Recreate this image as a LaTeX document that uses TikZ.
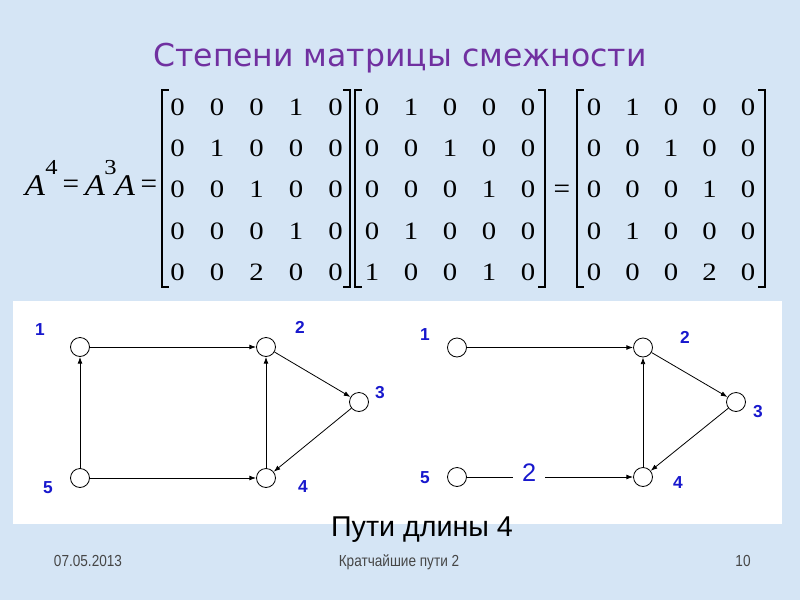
\documentclass[tikz,border=0pt]{standalone}
\usepackage{fontspec}
\setmainfont{Liberation Serif}
\newfontfamily\titlefont{DejaVu Sans}
\newfontfamily\sansfont{Liberation Sans}
\newfontfamily\narrowfont[FakeStretch=0.85]{Liberation Sans}
\newfontfamily\digitfont[FakeStretch=1.15]{Liberation Serif}
\newfontfamily\eqfont[FakeStretch=1.1]{Liberation Serif}
\usetikzlibrary{arrows.meta}
\definecolor{bgblue}{RGB}{213,229,245}
\definecolor{titlepurple}{RGB}{112,48,160}
\definecolor{lblblue}{RGB}{24,24,205}
\definecolor{footgray}{RGB}{70,70,70}
\tikzset{
  digit/.style={anchor=base, inner sep=0pt, font=\digitfont\fontsize{18.75}{18.75}\selectfont},
  eqpart/.style={anchor=base, inner sep=0pt, font=\eqfont\fontsize{22.5}{22.5}\selectfont},
  eqsign/.style={anchor=base, inner sep=0pt, font=\fontsize{22}{22}\selectfont},
  eqsup/.style={anchor=base, inner sep=0pt, font=\digitfont\fontsize{16}{16}\selectfont},
  bracket/.style={line width=1.5pt, line cap=rect},
  vert/.style={circle, draw=black, fill=white, minimum size=14.25pt, inner sep=0pt, line width=0.6pt},
  edge/.style={draw=black, line width=0.6pt, -{Latex[length=5pt,width=3.6pt]}},
  vlbl/.style={text=lblblue, inner sep=0pt, font=\sansfont\bfseries\fontsize{13}{13}\selectfont},
  foot/.style={anchor=base, text=footgray, inner sep=0pt, font=\narrowfont\fontsize{12}{12}\selectfont}
}
\newcommand\mymat[4]{%
  \foreach \rowlist [count=\r] in {#4} {
    \foreach \v [count=\c] in \rowlist {
      \node[digit] (#1-\r-\c) at ({#2+(\c-1)*#3}, {115+(\r-1)*41.4}) {\v};
    }
  }
}
\begin{document}
\begin{tikzpicture}[x=0.75pt,y=-0.75pt]
\fill[bgblue] (0,0) rectangle (800,600);
\useasboundingbox (0,0) rectangle (800,600);
\fill[white] (13,301) rectangle (782,524);

% title
\node[anchor=base, inner sep=0pt, text=titlepurple, font=\titlefont\fontsize{23.6}{23.6}\selectfont] (title) at (400,66) {Степени матрицы смежности};

% equation
\node[eqpart] (eA1) at (35,195) {\itshape A};
\node[eqsup] (e4) at (51.5,174) {4};
\node[eqsign] (eq1) at (71,193.5) {=};
\node[eqpart] (eA2) at (95,195) {\itshape A};
\node[eqsup] (e3) at (110.5,174) {3};
\node[eqpart] (eA3) at (125,195) {\itshape A};
\node[eqsign] (eq2) at (149,193.5) {=};

% matrices
\mymat{ma}{177.5}{39.5}{{0,0,0,1,0},{0,1,0,0,0},{0,0,1,0,0},{0,0,0,1,0},{0,0,2,0,0}}
\mymat{mb}{372}{39}{{0,1,0,0,0},{0,0,1,0,0},{0,0,0,1,0},{0,1,0,0,0},{1,0,0,1,0}}
\mymat{mc}{594}{38.5}{{0,1,0,0,0},{0,0,1,0,0},{0,0,0,1,0},{0,1,0,0,0},{0,0,0,2,0}}

% brackets
\draw[bracket] (168,90) -- (162,90) -- (162,287) -- (168,287);
\draw[bracket] (344,90) -- (350,90) -- (350,287) -- (344,287);
\draw[bracket] (361,90) -- (355,90) -- (355,287) -- (361,287);
\draw[bracket] (539,90) -- (545,90) -- (545,287) -- (539,287);
\draw[bracket] (583,90) -- (577,90) -- (577,287) -- (583,287);
\draw[bracket] (759,90) -- (765,90) -- (765,287) -- (759,287);
\node[eqsign] (eq3) at (562,198) {=};

% left graph
\node[vert] (a1) at (80,347) {};
\node[vert] (a2) at (266,347) {};
\node[vert] (a3) at (359,402) {};
\node[vert] (a4) at (266,478) {};
\node[vert] (a5) at (80,478) {};
\draw[edge] (a1) -- (a2);
\draw[edge] (a5) -- (a1);
\draw[edge] (a5) -- (a4);
\draw[edge] (a4) -- (a2);
\draw[edge] (a2) -- (a3);
\draw[edge] (a3) -- (a4);
\node[vlbl] (la1) at (40,330) {1};
\node[vlbl] (la2) at (300,327) {2};
\node[vlbl] (la3) at (380,393) {3};
\node[vlbl] (la4) at (303,487) {4};
\node[vlbl] (la5) at (48,488) {5};

% right graph
\node[vert] (b1) at (457,347.5) {};
\node[vert] (b2) at (643,347.5) {};
\node[vert] (b3) at (736,402) {};
\node[vert] (b4) at (643,477) {};
\node[vert] (b5) at (457,477) {};
\draw[edge] (b1) -- (b2);
\draw[edge] (b5) -- node[pos=0.374, fill=white, text=lblblue, inner xsep=6.5pt, inner ysep=1pt, font=\sansfont\fontsize{19}{19}\selectfont, yshift=3pt] (w52) {2} (b4);
\draw[edge] (b4) -- (b2);
\draw[edge] (b2) -- (b3);
\draw[edge] (b3) -- (b4);
\node[vlbl] (lb1) at (425,335) {1};
\node[vlbl] (lb2) at (685,337) {2};
\node[vlbl] (lb3) at (758,412) {3};
\node[vlbl] (lb4) at (678,483) {4};
\node[vlbl] (lb5) at (425,478) {5};

% caption
\node[anchor=base, inner sep=0pt, font=\sansfont\fontsize{21.5}{21.5}\selectfont] (cap) at (422,536) {Пути длины 4};

% footer
\node[foot] (fdate) at (88,566) {07.05.2013};
\node[foot] (ftitle) at (399,566) {Кратчайшие пути 2};
\node[foot] (fnum) at (743,566) {10};
\end{tikzpicture}
\end{document}
